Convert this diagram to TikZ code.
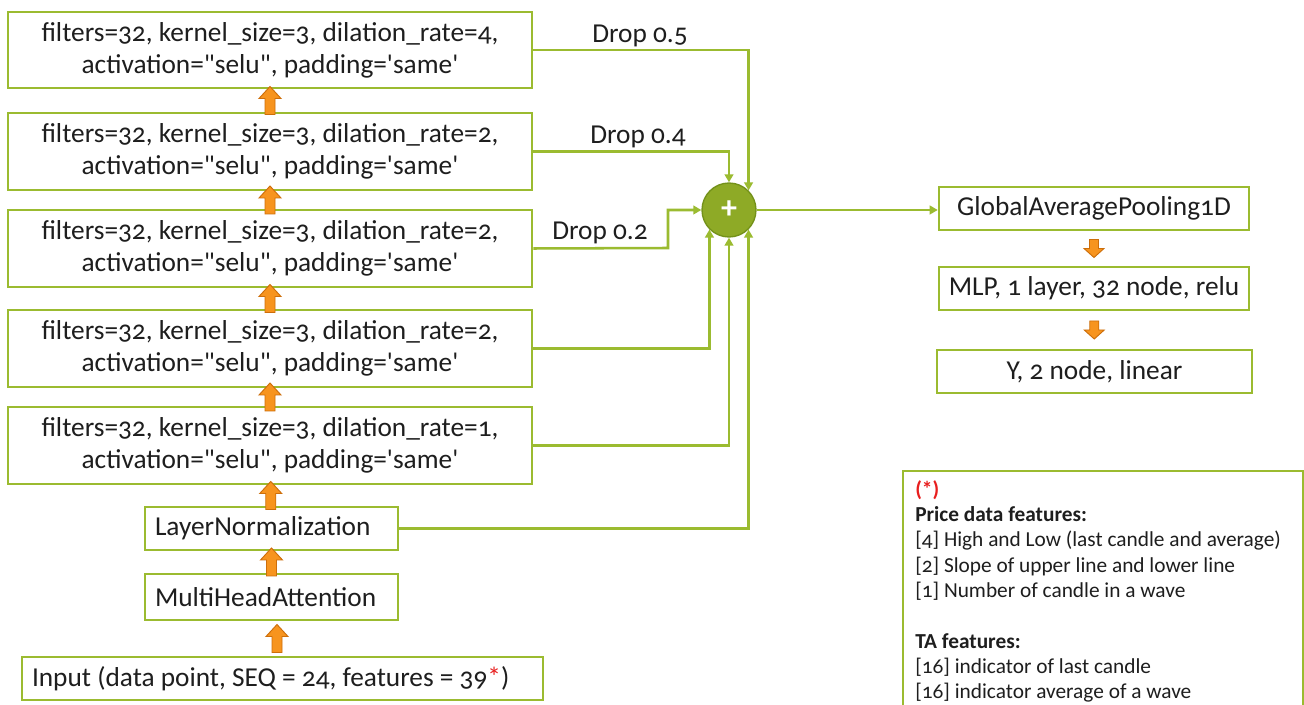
\documentclass[tikz,border=0pt]{standalone}
\usepackage{fontspec}
\setmainfont{Carlito}[Numbers=OldStyle]
\usetikzlibrary{arrows.meta,calc}
\definecolor{grn}{RGB}{155,187,48}
\definecolor{grndark}{RGB}{115,145,25}
\definecolor{plusfill}{RGB}{142,170,38}
\definecolor{org}{RGB}{247,148,30}
\definecolor{orgdark}{RGB}{205,110,10}
\definecolor{notered}{RGB}{232,30,30}
\definecolor{txt}{RGB}{30,30,30}
\tikzset{
  uparr/.pic={\filldraw[fill=org, draw=orgdark, line width=0.7pt] (0,-14) -- (11,-2) -- (5,-2) -- (5,14) -- (-5,14) -- (-5,-2) -- (-11,-2) -- cycle;},
  dnarr/.pic={\filldraw[fill=org, draw=orgdark, line width=0.7pt] (0,9) -- (10,0) -- (4.5,0) -- (4.5,-9) -- (-4.5,-9) -- (-4.5,0) -- (-10,0) -- cycle;},
}
\newcommand{\sq}{\textquotesingle}
\newcommand{\dq}{\textquotedbl}
\begin{document}
\begin{tikzpicture}[x=0.75pt,y=-0.75pt,
  box/.style={draw=grn, line width=1.9pt, fill=white, inner sep=0pt, align=center, text=txt,
    font=\fontsize{20.5}{24}\selectfont},
  lbox/.style={box, align=left, inner xsep=10*0.75pt},
  conn/.style={draw=grn, line width=1.9pt, -{Triangle[length=6pt,width=6.5pt]}},
  droplbl/.style={font=\fontsize{20.5}{22}\selectfont, anchor=south, inner sep=1pt, text=txt},
]
\clip (0,0) rectangle (1304,705);
\fill[white] (0,0) rectangle (1304,705);

% conv boxes
\node[box, minimum width=524*0.75pt, minimum height=76*0.75pt] (b1) at (270,50) {filters=32, kernel\_size=3, dilation\_rate=4,\\activation=\dq selu\dq, padding=\sq same\sq};
\node[box, minimum width=524*0.75pt, minimum height=77*0.75pt] (b2) at (270,151.5) {filters=32, kernel\_size=3, dilation\_rate=2,\\activation=\dq selu\dq, padding=\sq same\sq};
\node[box, minimum width=524*0.75pt, minimum height=77*0.75pt] (b3) at (270,248.5) {filters=32, kernel\_size=3, dilation\_rate=2,\\activation=\dq selu\dq, padding=\sq same\sq};
\node[box, minimum width=524*0.75pt, minimum height=77*0.75pt] (b4) at (270,348.5) {filters=32, kernel\_size=3, dilation\_rate=2,\\activation=\dq selu\dq, padding=\sq same\sq};
\node[box, minimum width=524*0.75pt, minimum height=77*0.75pt] (b5) at (270,445.5) {filters=32, kernel\_size=3, dilation\_rate=1,\\activation=\dq selu\dq, padding=\sq same\sq};

\node[lbox, text width=233*0.75pt, minimum height=43*0.75pt] (ln) at (271.5,528.5) {LayerNormalization};
\node[lbox, text width=233*0.75pt, minimum height=46*0.75pt] (mha) at (271.5,597) {MultiHeadAttention};
\node[box, minimum width=521*0.75pt, minimum height=43*0.75pt] (inp) at (282.5,678.5) {};
\node[anchor=west, inner sep=0pt, text=txt, font=\fontsize{20.5}{24}\selectfont] (inptxt)
  at ([xshift=11*0.75pt]inp.west) {Input (data point, SEQ = 24, features = 39\textcolor{notered}{*})};

% right column
\node[box, minimum width=310*0.75pt, minimum height=43*0.75pt] (gap) at (1094,208.5) {GlobalAveragePooling1D};
\node[box, minimum width=310*0.75pt, minimum height=43*0.75pt] (mlp) at (1094,288.5) {MLP, 1 layer, 32 node, relu};
\node[box, minimum width=315*0.75pt, minimum height=43*0.75pt] (out) at (1094.5,371.5) {Y, 2 node, linear};

% plus
\node[circle, fill=plusfill, draw=grndark, line width=1pt, minimum size=54*0.75pt, inner sep=0pt,
  text=white, font=\fontsize{24}{24}\selectfont\bfseries] (plus) at (729,210) {+};

% orange block arrows
\pic at ($(b1.south)!.5!(b2.north)$) {uparr};
\pic at ($(b2.south)!.5!(b3.north)$) {uparr};
\pic at ($(b3.south)!.5!(b4.north)$) {uparr};
\pic at ($(b4.south)!.5!(b5.north)$) {uparr};
\pic at ($(b5.south)!.5!(ln.north)$) {uparr};
\pic at ($(ln.south)!.5!(mha.north)$) {uparr};
\pic at ($(mha.south)!.5!(inp.north)$) {uparr};
\pic at ($(gap.south)!.5!(mlp.north)$) {dnarr};
\pic at ($(mlp.south)!.5!(out.north)$) {dnarr};

% connectors
\coordinate (j2) at (668,248);
\draw[conn] (b1.east) -| (plus.45);
\draw[conn] (b2.east) -| (plus.north);
\draw[conn] (b3.east) -- (j2) |- (plus.west);
\draw[conn] (b4.east) -| (plus.225);
\draw[conn] (b5.east) -| (plus.south);
\draw[conn] (ln.east) -| (plus.315);
\draw[conn] (plus.east) -- (plus.east -| gap.west);

\node[droplbl] (d5) at (640,49) {Drop 0.5};
\node[droplbl] (d4) at (638,150) {Drop 0.4};
\node[droplbl] (d2) at (600,246) {Drop 0.2};

% note
\draw[grn, line width=1.9pt] (903,730) -- (903,471) -- (1303,471) -- (1303,730);
\node[anchor=north west, inner sep=0pt, align=left, text=txt,
  font=\fontsize{16}{19}\selectfont] (note) at (915,480) {%
\textcolor{notered}{\textbf{(*)}}\\
\textbf{Price data features:}\\
{[4]} High and Low (last candle and average)\\
{[2]} Slope of upper line and lower line\\
{[1]} Number of candle in a wave\\[19pt]
\textbf{TA features:}\\
{[16]} indicator of last candle\\
{[16]} indicator average of a wave};
\end{tikzpicture}
\end{document}
